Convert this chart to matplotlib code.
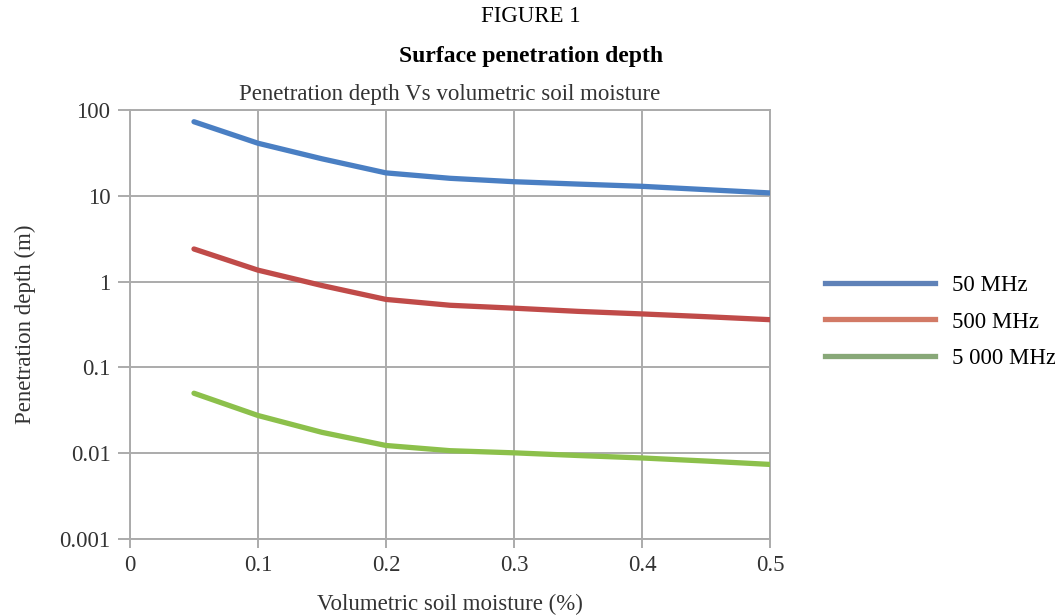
import matplotlib
matplotlib.use("Agg")
import matplotlib.pyplot as plt
from matplotlib.lines import Line2D
from matplotlib.ticker import FixedLocator, FixedFormatter, NullLocator

plt.rcParams.update({
    'font.family': ['Liberation Serif', 'DejaVu Serif'],
    'font.size': 16.5,
})

# Data
moisture = [0.05, 0.10, 0.15, 0.20, 0.25, 0.30, 0.35, 0.40, 0.45, 0.50]
depth_50 = [73, 41, 27, 18.5, 16, 14.6, 13.7, 12.9, 11.8, 10.8]
depth_500 = [2.4, 1.36, 0.9, 0.62, 0.53, 0.49, 0.45, 0.42, 0.39, 0.36]
depth_5000 = [0.05, 0.0275, 0.0175, 0.0123, 0.0107, 0.0101, 0.0094, 0.0088, 0.0081, 0.0074]

series_labels = ['50 MHz', '500 MHz', '5 000 MHz']
line_colors = ['#4a7fc3', '#c04b49', '#8cc04b']
legend_colors = ['#5f82b8', '#d27a66', '#88a878']

x_ticks = [0, 0.1, 0.2, 0.3, 0.4, 0.5]
x_tick_labels = ['0', '0.1', '0.2', '0.3', '0.4', '0.5']
y_ticks = [0.001, 0.01, 0.1, 1, 10, 100]
y_tick_labels = ['0.001', '0.01', '0.1', '1', '10', '100']

fig = plt.figure(figsize=(10.55, 6.16), dpi=100)
ax = fig.add_axes([0.1232, 0.1250, 0.6067, 0.6964])

for ys, c in zip([depth_50, depth_500, depth_5000], line_colors):
    ax.plot(moisture, ys, color=c, linewidth=3.8, solid_capstyle='round',
            solid_joinstyle='round', zorder=3)

ax.set_yscale('log')
ax.set_xlim(0, 0.5)
ax.set_ylim(0.001, 100)
ax.xaxis.set_major_locator(FixedLocator(x_ticks))
ax.xaxis.set_major_formatter(FixedFormatter(x_tick_labels))
ax.yaxis.set_major_locator(FixedLocator(y_ticks))
ax.yaxis.set_major_formatter(FixedFormatter(y_tick_labels))
ax.yaxis.set_minor_locator(NullLocator())
ax.xaxis.set_minor_locator(NullLocator())

ax.grid(True, color='#ababab', linewidth=1.4)
for s in ax.spines.values():
    s.set_color('#ababab')
    s.set_linewidth(1.4)
ax.tick_params(axis='both', direction='out', width=1.4, color='#ababab',
               labelsize=16.5, labelcolor='#333333')
ax.tick_params(axis='y', length=9, pad=5)
ax.tick_params(axis='x', length=6.5, pad=5)

ax.set_xlabel('Volumetric soil moisture (%)', fontsize=16.5, labelpad=13,
              color='#333333')
ax.set_ylabel('Penetration depth (m)', fontsize=16.5, labelpad=17,
              color='#333333')

fig.text(0.503, 0.973, 'FIGURE 1', ha='center', va='center', fontsize=16.5)
fig.text(0.503, 0.909, 'Surface penetration depth', ha='center', va='center',
         fontsize=17, fontweight='bold')
ax.set_title('Penetration depth Vs volumetric soil moisture', fontsize=16.5,
             pad=7.5, color='#333333')

handles = [Line2D([0], [0], color=c, linewidth=3.8) for c in legend_colors]
fig.legend(handles, series_labels, loc='center left', bbox_to_anchor=(0.782, 0.4773),
           frameon=False, borderpad=0, borderaxespad=0, handlelength=4.8,
           labelspacing=0.68, handletextpad=0.74, fontsize=16.5)

fig.savefig('out.png', dpi=100)
